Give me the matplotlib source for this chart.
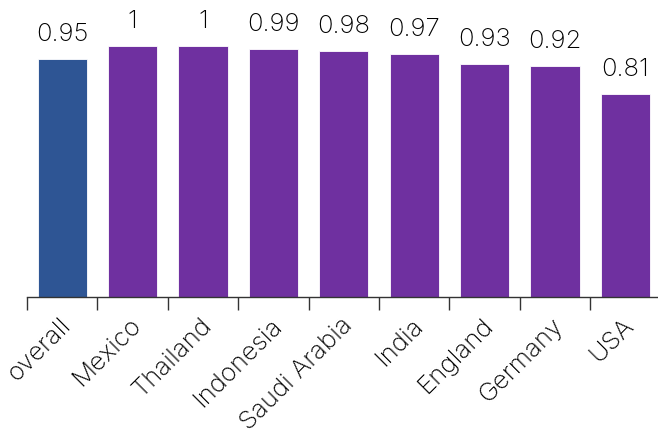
import matplotlib
matplotlib.use("Agg")
import matplotlib.pyplot as plt

# values
countries = ["overall", "Mexico", "Thailand", "Indonesia", "Saudi Arabia",
             "India", "England", "Germany", "USA"]
scores = [0.95, 1.0, 1.0, 0.99, 0.98, 0.97, 0.93, 0.92, 0.81]
labels = ["0.95", "1", "1", "0.99", "0.98", "0.97", "0.93", "0.92", "0.81"]

blue = "#2e5594"
purple = "#6f30a0"
colors = [blue] + [purple] * (len(countries) - 1)

plt.rcParams["font.family"] = ["Inter", "DejaVu Sans"]

W, H = 658, 435
fig = plt.figure(figsize=(W / 100, H / 100), dpi=100)
# axes spans one band step per category, so the last tick falls just off the figure
step = 70.4
ax = fig.add_axes([27 / W, (H - 298) / H, step * len(countries) / W, 298 / H])

x = list(range(len(countries)))
ax.bar(x, scores, width=0.7, color=colors, edgecolor="#ffffff", linewidth=0.6)

for i, (s, lab) in enumerate(zip(scores, labels)):
    ax.annotate(lab, (i, s), xytext=(0, 19), textcoords="offset pixels",
                ha="center", va="baseline", fontsize=18.5, fontweight="light",
                color="black")

for i, name in enumerate(countries):
    ax.annotate(name, (i, 0), xytext=(5, -24), textcoords="offset pixels",
                ha="right", va="center", rotation=45, rotation_mode="anchor",
                fontsize=18.5, fontweight="light", color="black",
                annotation_clip=False)

ax.set_xlim(-0.5, len(countries) - 0.5)
ax.set_ylim(0, 298 / 251)
ax.set_xticks([i - 0.5 for i in range(len(countries) + 1)])
ax.set_xticklabels([])
ax.tick_params(axis="x", length=9, width=1, color="#333333")
ax.set_yticks([])
for side in ["top", "right", "left"]:
    ax.spines[side].set_visible(False)
ax.spines["bottom"].set_color("#333333")
ax.spines["bottom"].set_linewidth(1)

fig.savefig("out.png", dpi=100)
